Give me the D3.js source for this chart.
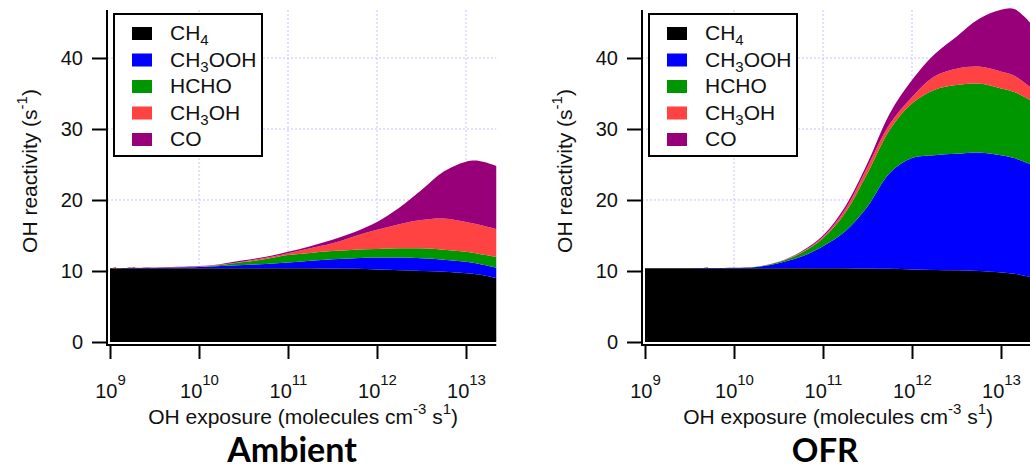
<!DOCTYPE html>
<html>
<head>
<meta charset="utf-8">
<script src="https://cdn.jsdelivr.net/npm/d3@7"></script>
<style>
  body { margin: 0; background: white; }
  svg { display: block; font-family: "Liberation Sans", Arial, sans-serif; }
</style>
</head>
<body>
<div id="chart"></div>
<script>
// OH reactivity from CH4 and its oxidation products vs OH exposure
// values, x given as log10 of OH exposure
const logExposure = [9, 9.5, 10, 10.25, 10.5, 10.75, 11, 11.25, 11.5, 11.75, 12, 12.25, 12.5, 12.75, 13, 13.15, 13.34];
const species = ["CH4", "CH3OOH", "HCHO", "CH3OH", "CO"];
const legendLabels = [["CH", "4", ""], ["CH", "3", "OOH"], ["HCHO", "", ""], ["CH", "3", "OH"], ["CO", "", ""]];
const speciesColors = ["#000000", "#0000ff", "#009600", "#ff4343", "#98007a"];

// Ambient panel
const ambientCH4 = [10.4, 10.4, 10.4, 10.4, 10.4, 10.4, 10.4, 10.4, 10.35, 10.3, 10.2, 10.1, 10.0, 9.9, 9.7, 9.5, 9.0];
const ambientCH3OOH = [0, 0.05, 0.15, 0.3, 0.45, 0.6, 0.8, 1.05, 1.3, 1.5, 1.7, 1.8, 1.8, 1.7, 1.6, 1.5, 1.5];
const ambientHCHO = [0, 0.02, 0.05, 0.15, 0.4, 0.7, 1.05, 1.1, 1.15, 1.2, 1.2, 1.3, 1.4, 1.4, 1.4, 1.4, 1.5];
const ambientCH3OH = [0, 0.01, 0.05, 0.05, 0.1, 0.15, 0.25, 0.65, 1.1, 1.9, 2.7, 3.4, 4.0, 4.4, 4.2, 4.1, 3.9];
const ambientCO = [0, 0.02, 0.05, 0.1, 0.15, 0.15, 0.2, 0.3, 0.5, 0.6, 1.1, 2.3, 4.2, 6.6, 8.5, 9.0, 8.9];

// OFR panel
const ofrCH4 = [10.4, 10.4, 10.4, 10.4, 10.4, 10.4, 10.4, 10.4, 10.35, 10.3, 10.2, 10.15, 10.1, 10.0, 9.8, 9.6, 9.1];
const ofrCH3OOH = [0, 0, 0.05, 0.15, 0.7, 1.6, 3.1, 5.2, 8.75, 13.5, 15.7, 16.15, 16.4, 16.7, 16.5, 16.3, 15.9];
const ofrHCHO = [0, 0, 0, 0.05, 0.15, 0.5, 1.1, 2.6, 4.7, 6.1, 7.7, 9.2, 9.7, 9.7, 9.4, 9.3, 9.0];
const ofrCH3OH = [0, 0, 0, 0, 0.05, 0.1, 0.2, 0.5, 0.9, 0.8, 0.9, 1.9, 2.3, 2.4, 2.4, 2.3, 1.8];
const ofrCO = [0, 0, 0, 0, 0, 0.1, 0.2, 0.4, 0.5, 1.5, 2.4, 3.1, 4.5, 6.7, 8.7, 9.4, 9.0];

const yTicks = [0, 10, 20, 30, 40];
const xTicks = [1e9, 1e10, 1e11, 1e12, 1e13];

const svg = d3.select("#chart").append("svg")
    .attr("width", 1030)
    .attr("height", 470);

//Builds rows for d3.stack from the series arrays
function buildRows(series) {
    return logExposure.map((lx, i) => {
        const row = {x: Math.pow(10, lx)};
        species.forEach((s, j) => { row[s] = series[j][i]; });
        return row;
    });
}

const x = d3.scaleLog().domain([1e9, 1e13]).range([110, 466]);
const y = d3.scaleLinear().domain([0, 46.76]).range([342, 10]);
const xEnd = x(Math.pow(10, logExposure[logExposure.length - 1]));

function drawPanel(offset, series, title) {
    const g = svg.append("g").attr("transform", "translate(" + offset + ",0)");

    //dotted grid
    g.append("g").selectAll("line.v").data(xTicks.slice(1)).join("line")
        .attr("x1", d => x(d)).attr("x2", d => x(d))
        .attr("y1", y.range()[1]).attr("y2", y.range()[0])
        .attr("stroke", "#c4c4ff").attr("stroke-width", 1).attr("stroke-dasharray", "2,2");
    g.append("g").selectAll("line.h").data(yTicks.slice(1)).join("line")
        .attr("x1", 107).attr("x2", xEnd)
        .attr("y1", d => y(d)).attr("y2", d => y(d))
        .attr("stroke", "#c4c4ff").attr("stroke-width", 1).attr("stroke-dasharray", "2,2");

    //stacked areas
    const stacked = d3.stack().keys(species)(buildRows(series));
    const area = d3.area()
        .x(d => x(d.data.x))
        .y0(d => y(d[0]))
        .y1(d => y(d[1]))
        .curve(d3.curveCatmullRom.alpha(0.5));
    g.append("g").selectAll("path").data(stacked).join("path")
        .attr("fill", (d, i) => speciesColors[i])
        .attr("d", area);

    //y axis
    const yAx = g.append("g")
        .attr("transform", "translate(107,0)")
        .call(d3.axisLeft(y).tickValues(yTicks).tickSize(15).tickPadding(9));
    yAx.select(".domain").remove();
    yAx.selectAll(".tick line").attr("stroke-width", 2);
    yAx.selectAll("text").attr("font-size", 20).attr("fill", "#111");
    g.append("line")
        .attr("x1", 107).attr("x2", 107)
        .attr("y1", y.range()[1]).attr("y2", 346)
        .attr("stroke", "black").attr("stroke-width", 2);

    //x axis
    const xAx = g.append("g")
        .attr("transform", "translate(0,345)")
        .call(d3.axisBottom(x).tickValues(xTicks).tickSize(14).tickFormat(""));
    xAx.select(".domain").remove();
    xAx.selectAll(".tick line").attr("stroke-width", 2);
    xAx.selectAll(".tick text")
        .attr("y", 53).attr("dy", 0)
        .attr("font-size", 20).attr("fill", "#111")
        .each(function (d) {
            const t = d3.select(this);
            t.append("tspan").text("10");
            t.append("tspan").attr("dy", -13).attr("font-size", 15).text(Math.round(Math.log10(d)));
        });
    g.append("line")
        .attr("x1", 106).attr("x2", xEnd)
        .attr("y1", 345).attr("y2", 345)
        .attr("stroke", "black").attr("stroke-width", 2);

    //axis titles
    const xt = g.append("text")
        .attr("x", (x.range()[0] + xEnd) / 2).attr("y", 424)
        .attr("text-anchor", "middle").attr("font-size", 21).attr("fill", "#111");
    xt.append("tspan").text("OH exposure (molecules cm");
    xt.append("tspan").attr("dy", -10).attr("font-size", 15).text("-3");
    xt.append("tspan").attr("dy", 10).text(" s");
    xt.append("tspan").attr("dy", -10).attr("font-size", 15).text("1");
    xt.append("tspan").attr("dy", 10).text(")");

    const yt = g.append("text")
        .attr("transform", "translate(37,171) rotate(-90)")
        .attr("text-anchor", "middle").attr("font-size", 21).attr("fill", "#111");
    yt.append("tspan").text("OH reactivity (s");
    yt.append("tspan").attr("dy", -10).attr("font-size", 15).text("-1");
    yt.append("tspan").attr("dy", 10).text(")");

    //legend
    const lg = g.append("g").attr("transform", "translate(114,14)");
    lg.append("rect")
        .attr("width", 148).attr("height", 142)
        .attr("fill", "white").attr("stroke", "black").attr("stroke-width", 2);
    const items = lg.selectAll("g.item").data(legendLabels).join("g")
        .attr("class", "item")
        .attr("transform", (d, i) => "translate(0," + (19 + i * 26.5) + ")");
    items.append("rect")
        .attr("x", 18).attr("y", -6).attr("width", 20).attr("height", 13)
        .attr("fill", (d, i) => speciesColors[i]);
    const lt = items.append("text")
        .attr("x", 56).attr("y", 7)
        .attr("font-size", 21).attr("fill", "#111");
    lt.append("tspan").text(d => d[0]);
    lt.filter(d => d[1] !== "").append("tspan")
        .attr("dy", 5).attr("font-size", 15).text(d => d[1]);
    lt.filter(d => d[2] !== "").append("tspan")
        .attr("dy", -5).text(d => d[2]);

    //panel title
    g.append("text")
        .attr("x", title.cx).attr("y", 462)
        .attr("text-anchor", "middle")
        .attr("font-family", "Lato, 'Open Sans', sans-serif")
        .attr("font-weight", "bold").attr("font-size", title.size)
        .text(title.text);
}

drawPanel(0, [ambientCH4, ambientCH3OOH, ambientHCHO, ambientCH3OH, ambientCO], {text: "Ambient", cx: 292, size: 34});
drawPanel(535, [ofrCH4, ofrCH3OOH, ofrHCHO, ofrCH3OH, ofrCO], {text: "OFR", cx: 290, size: 33});
</script>
</body>
</html>
